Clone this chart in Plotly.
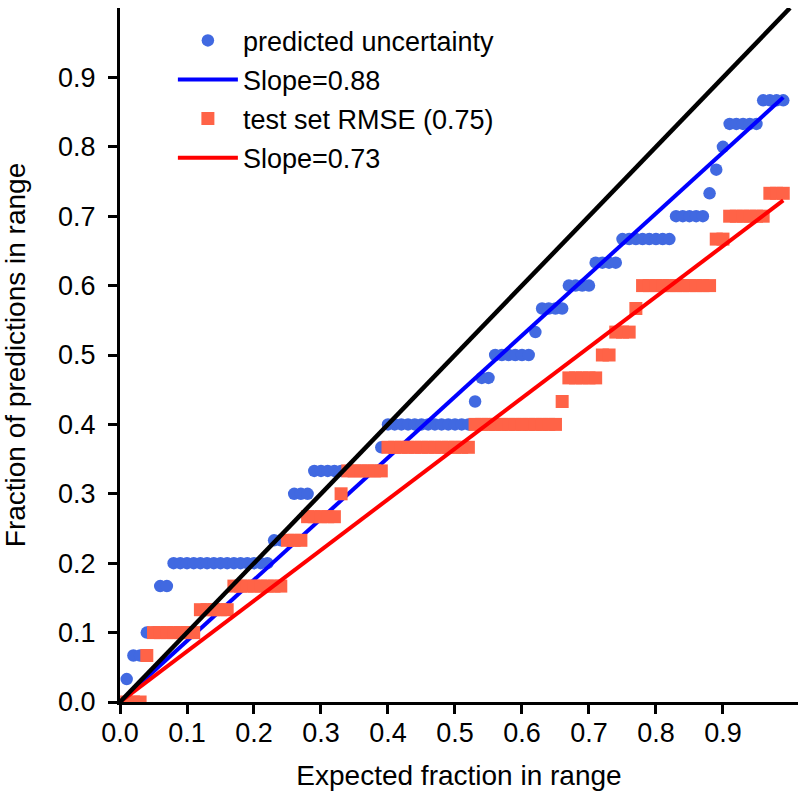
import plotly.graph_objects as go

expected = [
    0.01, 0.02, 0.03, 0.04, 0.05, 0.06, 0.07, 0.08, 0.09, 0.10,
    0.11, 0.12, 0.13, 0.14, 0.15, 0.16, 0.17, 0.18, 0.19, 0.20,
    0.21, 0.22, 0.23, 0.24, 0.25, 0.26, 0.27, 0.28, 0.29, 0.30,
    0.31, 0.32, 0.33, 0.34, 0.35, 0.36, 0.37, 0.38, 0.39, 0.40,
    0.41, 0.42, 0.43, 0.44, 0.45, 0.46, 0.47, 0.48, 0.49, 0.50,
    0.51, 0.52, 0.53, 0.54, 0.55, 0.56, 0.57, 0.58, 0.59, 0.60,
    0.61, 0.62, 0.63, 0.64, 0.65, 0.66, 0.67, 0.68, 0.69, 0.70,
    0.71, 0.72, 0.73, 0.74, 0.75, 0.76, 0.77, 0.78, 0.79, 0.80,
    0.81, 0.82, 0.83, 0.84, 0.85, 0.86, 0.87, 0.88, 0.89, 0.90,
    0.91, 0.92, 0.93, 0.94, 0.95, 0.96, 0.97, 0.98, 0.99,
]

predicted_uncertainty = [
    0.033, 0.067, 0.067, 0.1, 0.1, 0.167, 0.167, 0.2, 0.2, 0.2,
    0.2, 0.2, 0.2, 0.2, 0.2, 0.2, 0.2, 0.2, 0.2, 0.2,
    0.2, 0.2, 0.233, 0.233, 0.233, 0.3, 0.3, 0.3, 0.333, 0.333,
    0.333, 0.333, 0.333, 0.333, 0.333, 0.333, 0.333, 0.333, 0.367, 0.4,
    0.4, 0.4, 0.4, 0.4, 0.4, 0.4, 0.4, 0.4, 0.4, 0.4,
    0.4, 0.4, 0.433, 0.467, 0.467, 0.5, 0.5, 0.5, 0.5, 0.5,
    0.5, 0.533, 0.567, 0.567, 0.567, 0.567, 0.6, 0.6, 0.6, 0.6,
    0.633, 0.633, 0.633, 0.633, 0.667, 0.667, 0.667, 0.667, 0.667, 0.667,
    0.667, 0.667, 0.7, 0.7, 0.7, 0.7, 0.7, 0.733, 0.767, 0.8,
    0.833, 0.833, 0.833, 0.833, 0.833, 0.867, 0.867, 0.867, 0.867,
]

test_set_rmse = [
    0.0, 0.0, 0.0, 0.067, 0.1, 0.1, 0.1, 0.1, 0.1, 0.1,
    0.1, 0.133, 0.133, 0.133, 0.133, 0.133, 0.167, 0.167, 0.167, 0.167,
    0.167, 0.167, 0.167, 0.167, 0.233, 0.233, 0.233, 0.267, 0.267, 0.267,
    0.267, 0.267, 0.3, 0.333, 0.333, 0.333, 0.333, 0.333, 0.333, 0.367,
    0.367, 0.367, 0.367, 0.367, 0.367, 0.367, 0.367, 0.367, 0.367, 0.367,
    0.367, 0.367, 0.4, 0.4, 0.4, 0.4, 0.4, 0.4, 0.4, 0.4,
    0.4, 0.4, 0.4, 0.4, 0.4, 0.433, 0.467, 0.467, 0.467, 0.467,
    0.467, 0.5, 0.5, 0.533, 0.533, 0.533, 0.567, 0.6, 0.6, 0.6,
    0.6, 0.6, 0.6, 0.6, 0.6, 0.6, 0.6, 0.6, 0.667, 0.667,
    0.7, 0.7, 0.7, 0.7, 0.7, 0.7, 0.733, 0.733, 0.733,
]

slopes = [0.88, 0.73]
fit_x = [0.0, 0.99]
ideal = [0.0, 1.0]

tick_vals = [0.0, 0.1, 0.2, 0.3, 0.4, 0.5, 0.6, 0.7, 0.8, 0.9]
tick_text = ["0.0", "0.1", "0.2", "0.3", "0.4", "0.5", "0.6", "0.7", "0.8", "0.9"]

series_names = ["predicted uncertainty", "Slope=0.88", "test set RMSE (0.75)", "Slope=0.73"]

FONT = "Liberation Sans, Arial, Helvetica, sans-serif"

fig = go.Figure()
fig.add_trace(go.Scatter(
    x=expected, y=predicted_uncertainty, mode="markers", name=series_names[0],
    legendgroup="a",
    marker=dict(symbol="circle", size=12.5, color="#4169E1", line=dict(width=0)),
))
fig.add_trace(go.Scatter(
    x=fit_x, y=[slopes[0] * v for v in fit_x], mode="lines", name=series_names[1],
    legendgroup="b",
    line=dict(color="#0000FF", width=4),
))
fig.add_trace(go.Scatter(
    x=expected, y=test_set_rmse, mode="markers", name=series_names[2],
    legendgroup="c",
    marker=dict(symbol="square", size=13, color="#FF6347", line=dict(width=0)),
))
fig.add_trace(go.Scatter(
    x=fit_x, y=[slopes[1] * v for v in fit_x], mode="lines", name=series_names[3],
    legendgroup="d",
    line=dict(color="#FF0000", width=4),
))
fig.add_trace(go.Scatter(
    x=ideal, y=ideal, mode="lines", showlegend=False,
    line=dict(color="black", width=4.5),
))

axis_common = dict(
    showgrid=False, zeroline=False, showline=True, linecolor="black", linewidth=3,
    ticks="outside", ticklen=9, tickwidth=2.5, tickcolor="black",
    tickfont=dict(family=FONT, size=27, color="black"),
    tickvals=tick_vals, ticktext=tick_text,
)

fig.update_layout(
    width=800, height=795,
    margin=dict(l=120, r=2, t=8, b=93, autoexpand=False),
    paper_bgcolor="white", plot_bgcolor="white",
    font=dict(family=FONT, size=27, color="black"),
    xaxis=dict(range=[0, 1.012], ticklabelstandoff=-4,
               title=dict(text="Expected fraction in range",
                          font=dict(family=FONT, size=28), standoff=18),
               **axis_common),
    yaxis=dict(range=[0, 1.0], ticklabelstandoff=7,
               title=dict(text="Fraction of predictions in range",
                          font=dict(family=FONT, size=28), standoff=29),
               **axis_common),
    legend=dict(x=0.078, y=0.988, xanchor="left", yanchor="top",
                bgcolor="rgba(0,0,0,0)", borderwidth=0,
                font=dict(family=FONT, size=27, color="black"),
                itemwidth=60, tracegroupgap=1, traceorder="grouped"),
    showlegend=True,
)

# remove the browser's default 8px body margin so the figure fills the window
fig.write_html("out.html", config={"displayModeBar": False},
               post_script="document.body.style.margin='0';")
